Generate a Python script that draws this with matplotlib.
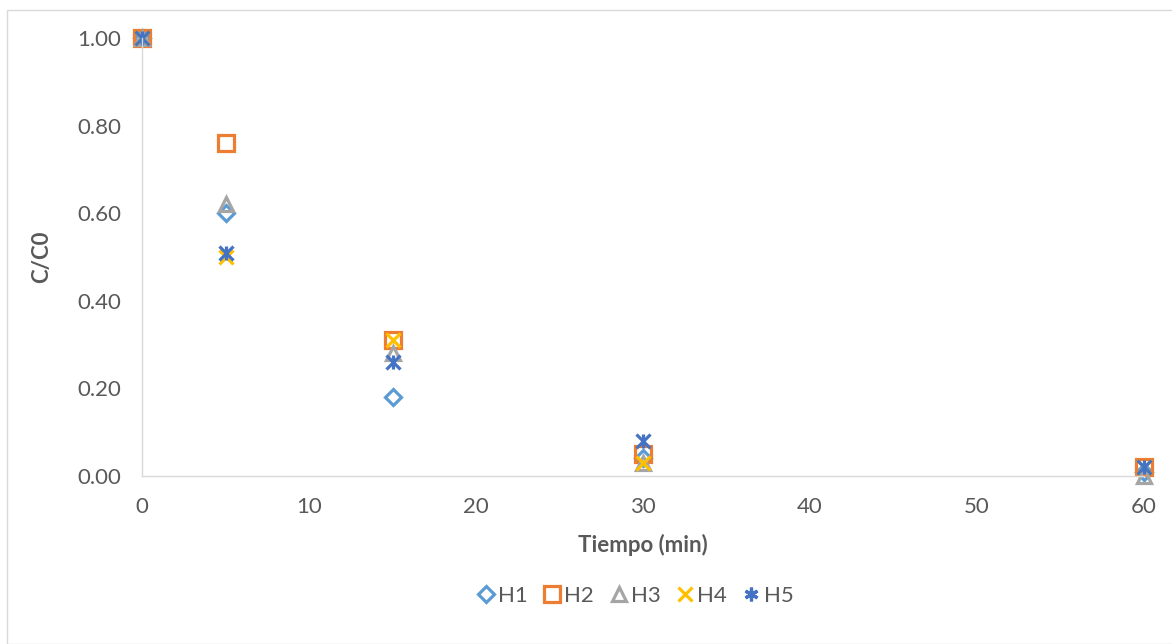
import matplotlib
matplotlib.use("Agg")
import matplotlib.pyplot as plt
from matplotlib.patches import Rectangle

plt.rcParams['font.family'] = ['Lato', 'DejaVu Sans']

tiempo = [0, 5, 15, 30, 60]
h1 = [1.00, 0.60, 0.18, 0.04, 0.01]
h2 = [1.00, 0.76, 0.31, 0.05, 0.02]
h3 = [1.00, 0.62, 0.28, 0.03, 0.00]
h4 = [1.00, 0.50, 0.31, 0.03, 0.02]
h5 = [1.00, 0.51, 0.26, 0.08, 0.02]

W, H = 1172, 644
fig = plt.figure(figsize=(W / 100, H / 100), dpi=100)
fig.patches.append(Rectangle((7 / W, 0), 1.2, 1 - 10 / H, transform=fig.transFigure,
                             fill=False, edgecolor='#d9d9d9', linewidth=1.0))

ax = fig.add_axes([142 / W, 1 - 476 / H, (1144 - 142) / W, (476 - 38) / H])

ms = 11
mew = 2.3
ax.plot(tiempo, h1, linestyle='none', marker='D', markersize=ms * 0.75, mfc='none',
        mec='#5b9bd5', mew=mew, label='H1', clip_on=False)
ax.plot(tiempo, h2, linestyle='none', marker='s', markersize=ms * 1.0, mfc='none',
        mec='#ed7d31', mew=mew, label='H2', clip_on=False)
ax.plot(tiempo, h3, linestyle='none', marker='^', markersize=ms * 0.95, mfc='none',
        mec='#a5a5a5', mew=mew, label='H3', clip_on=False)
ax.plot(tiempo, h4, linestyle='none', marker='x', markersize=ms * 0.9, mfc='none',
        mec='#ffc000', mew=mew, label='H4', clip_on=False)
# asterisk-like star made of an x plus a vertical bar
ax.plot(tiempo, h5, linestyle='none', marker='x', markersize=ms * 0.9,
        mec='#4472c4', mew=mew, clip_on=False)
ax.plot(tiempo, h5, linestyle='none', marker='|', markersize=ms * 0.95,
        mec='#4472c4', mew=mew, clip_on=False)
h5_handle = ax.plot([], [], linestyle='none', marker=(6, 2, 0), markersize=ms * 0.9,
                    mec='#4472c4', mew=mew, label='H5')[0]

ax.set_xlim(0, 60)
ax.set_ylim(0, 1.0)
ax.set_xticks(range(0, 61, 10))
ax.set_yticks([0, 0.2, 0.4, 0.6, 0.8, 1.0])
ax.set_yticklabels([f"{v:.2f}" for v in [0, 0.2, 0.4, 0.6, 0.8, 1.0]])

for s in ['top', 'right']:
    ax.spines[s].set_visible(False)
for s in ['left', 'bottom']:
    ax.spines[s].set_color('#d9d9d9')
    ax.spines[s].set_linewidth(1.0)
ax.tick_params(length=0, labelsize=16, colors='#595959')
ax.tick_params(axis='y', pad=15)
ax.tick_params(axis='x', pad=15)

ax.set_xlabel('Tiempo (min)', fontsize=16, fontweight='bold', color='#595959', labelpad=12)
ax.set_ylabel('C/C0', fontsize=16, fontweight='bold', color='#595959', labelpad=18)

handles, labels = ax.get_legend_handles_labels()
fig.legend(handles, labels, loc='center', bbox_to_anchor=(634 / W, 1 - 596 / H), ncol=5,
           frameon=False, fontsize=16, labelcolor='#595959', handletextpad=0.05,
           columnspacing=0.6, handlelength=1.0)

fig.savefig('out.png', dpi=100)
